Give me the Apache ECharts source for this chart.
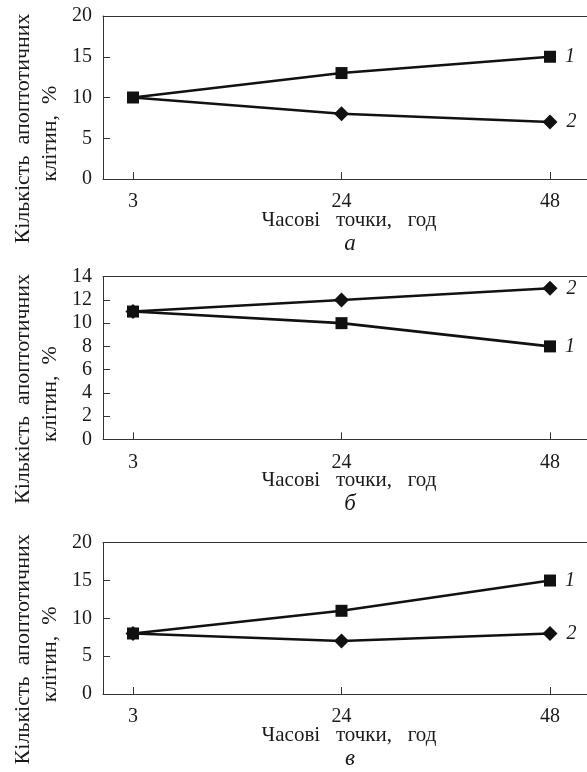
<!DOCTYPE html>
<html>
<head>
<meta charset="utf-8">
<style>
  html, body { margin: 0; padding: 0; background: #fff; }
  #chart { width: 587px; height: 772px; }
</style>
<script src="https://cdn.jsdelivr.net/npm/echarts@6/dist/echarts.min.js"></script>
</head>
<body>
<div id="chart"></div>
<script>
// ---- data ----
const xLabels = ['3', '24', '48'];
const xIndex = [0, 1, 2];

const panelA_series1 = [10, 13, 15];
const panelA_series2 = [10, 8, 7];
const panelB_series1 = [11, 10, 8];
const panelB_series2 = [11, 12, 13];
const panelC_series1 = [8, 11, 15];
const panelC_series2 = [8, 7, 8];

const yMaxes = [20, 14, 20];
const yIntervals = [5, 2, 5];
const panelLetters = ['а', 'б', 'в'];
const seriesNames = ['1', '2'];
const yTitleLine1 = 'Кількість  апоптотичних';
const yTitleLine2 = 'клітин,  %';
const xTitle = 'Часові   точки,   год';

// ---- layout ----
const FONT = '"Liberation Serif", "DejaVu Serif", serif';
const TXT = '#1a1a1a';
const AX = '#333';
const gridLeft = 103;
const gridTops = [16, 276.7, 542.7];
const gridHeights = [163, 162.6, 151.3];
const xMin = -0.1439, xMax = 2.1775;

const panels = [
  [panelA_series1, panelA_series2],
  [panelB_series1, panelB_series2],
  [panelC_series1, panelC_series2]
];

const grid = [], xAxis = [], yAxis = [], series = [], graphic = [];

panels.forEach((pair, p) => {
  grid.push({ left: gridLeft, right: 0, top: gridTops[p], height: gridHeights[p] });
  xAxis.push({
    type: 'value', gridIndex: p, min: xMin, max: xMax, position: 'bottom',
    splitLine: { show: false },
    axisLine: { show: true, onZero: false, lineStyle: { color: AX, width: 1 } },
    axisTick: { show: true, inside: true, length: 7, customValues: xIndex, lineStyle: { color: AX } },
    axisLabel: {
      show: true, customValues: xIndex, margin: 13,
      formatter: v => xLabels[Math.round(v)] || '',
      fontFamily: FONT, fontSize: 20, color: TXT
    }
  });
  xAxis.push({
    type: 'value', gridIndex: p, min: xMin, max: xMax, position: 'top',
    splitLine: { show: false },
    axisLine: { show: true, onZero: false, lineStyle: { color: AX, width: 1 } },
    axisTick: { show: false }, axisLabel: { show: false }
  });
  yAxis.push({
    type: 'value', gridIndex: p, min: 0, max: yMaxes[p], interval: yIntervals[p],
    position: 'left',
    splitLine: { show: false },
    axisLine: { show: true, onZero: false, lineStyle: { color: AX, width: 1 } },
    axisTick: { show: true, inside: true, length: 7, lineStyle: { color: AX } },
    axisLabel: { margin: 11, fontFamily: FONT, fontSize: 20, color: TXT }
  });

  pair.forEach((vals, s) => {
    const isSquare = s === 0;
    const data = xIndex.map((x, i) => {
      const item = { value: [x, vals[i]] };
      if (p === 0 && s === 1 && i === 0) item.symbol = 'none';
      if (i === xIndex.length - 1) {
        item.label = {
          show: true, position: 'right', distance: 9,
          formatter: seriesNames[s],
          fontFamily: FONT, fontStyle: 'italic', fontSize: 20, color: TXT
        };
      }
      return item;
    });
    series.push({
      type: 'line',
      xAxisIndex: p * 2, yAxisIndex: p,
      data: data,
      symbol: isSquare ? 'rect' : 'diamond',
      symbolSize: isSquare ? 12 : 15,
      showSymbol: true,
      animation: false,
      z: isSquare ? 3 : 2,
      lineStyle: { color: '#111', width: 2.6 },
      itemStyle: { color: '#111' },
      label: { show: false }
    });
  });

  const cy = gridTops[p] + gridHeights[p] / 2;
  graphic.push({
    type: 'text', x: 23, y: cy + 31, rotation: Math.PI / 2,
    style: { text: yTitleLine1, font: '22px ' + FONT, fill: TXT, textAlign: 'center', textVerticalAlign: 'middle' }
  });
  graphic.push({
    type: 'text', x: 50, y: cy + 36, rotation: Math.PI / 2,
    style: { text: yTitleLine2, font: '22px ' + FONT, fill: TXT, textAlign: 'center', textVerticalAlign: 'middle' }
  });
  const bottom = gridTops[p] + gridHeights[p];
  graphic.push({
    type: 'text', x: 349, y: bottom + 41,
    style: { text: xTitle, font: '21px ' + FONT, fill: TXT, textAlign: 'center', textVerticalAlign: 'middle' }
  });
  graphic.push({
    type: 'text', x: 350, y: bottom + 65,
    style: { text: panelLetters[p], font: 'italic 23px ' + FONT, fill: TXT, textAlign: 'center', textVerticalAlign: 'middle' }
  });
});

const chart = echarts.init(document.getElementById('chart'), null, { renderer: 'canvas' });
chart.setOption({
  animation: false,
  backgroundColor: '#fff',
  grid, xAxis, yAxis, series, graphic
});
</script>
</body>
</html>
